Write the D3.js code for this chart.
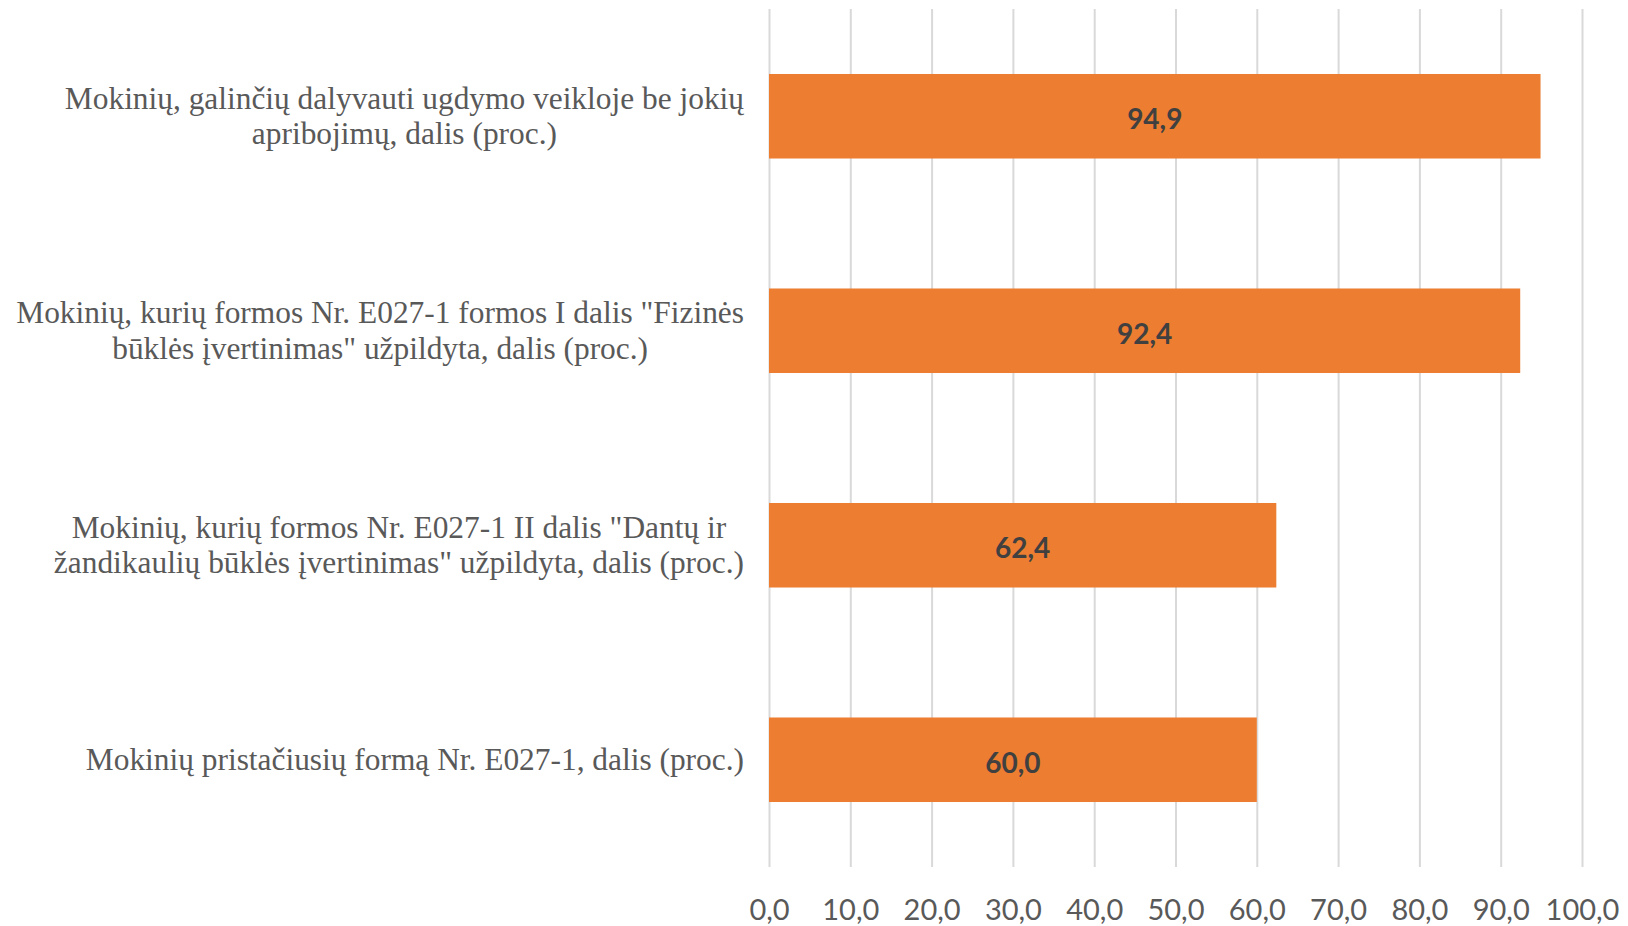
<!DOCTYPE html>
<html>
<head>
    <meta charset="utf-8" />
    <title>E027-1 formos</title>
    <script src="https://d3js.org/d3.v7.min.js"></script>
    <style>
        body { margin: 0; background: #fff; }
        .x.axis text { font-family: Lato, "Open Sans", sans-serif; font-size: 29px; fill: #595959; }
        .x.axis line { stroke: #d9d9d9; stroke-width: 2; }
        .cat text { font-family: "Liberation Serif", "Times New Roman", serif; font-size: 31.4px; fill: #595959; }
        .val { font-family: Lato, "Open Sans", sans-serif; font-size: 28px; font-weight: bold; fill: #404040; }
    </style>
</head>
<body>
    <svg class="chart"></svg>
    <script>
        // kategoriju pavadinimai (eilutemis, kaip lauzoma paveiksle)
        var categories = [
            ["Mokinių, galinčių dalyvauti ugdymo veikloje be jokių", "apribojimų, dalis (proc.)"],
            ["Mokinių, kurių formos Nr. E027-1 formos I dalis \"Fizinės", "būklės įvertinimas\" užpildyta, dalis (proc.)"],
            ["Mokinių, kurių formos Nr. E027-1 II dalis \"Dantų ir", "žandikaulių būklės įvertinimas\" užpildyta, dalis (proc.)"],
            ["Mokinių pristačiusių formą Nr. E027-1, dalis (proc.)"]
        ];
        var values = [94.9, 92.4, 62.4, 60.0];
        var xTicks = [0, 10, 20, 30, 40, 50, 60, 70, 80, 90, 100];

        var svgWidth = 1628, svgHeight = 926;
        var margin = {top: 9, right: 46, bottom: 59, left: 769};
        var width = svgWidth - margin.left - margin.right;
        var height = svgHeight - margin.top - margin.bottom;

        var svg = d3.select(".chart")
            .attr("width", svgWidth)
            .attr("height", svgHeight);

        var chart = svg.append("g")
            .attr("transform", "translate(" + margin.left + "," + margin.top + ")");

        var fmt = d => d3.format(".1f")(d).replace(".", ",");

        var xScale = d3.scaleLinear().domain([0, 100]).range([0, width]);
        var yScale = d3.scaleBand()
            .domain(d3.range(categories.length))
            .range([0, height])
            .paddingInner(0.606)
            .paddingOuter(0.303);

        var xAxis = d3.axisBottom(xScale)
            .tickValues(xTicks)
            .tickSize(-height)
            .tickFormat(fmt);

        var gx = chart.append("g")
            .attr("class", "x axis")
            .attr("transform", "translate(0," + height + ")")
            .call(xAxis);
        gx.select(".domain").remove();
        gx.selectAll("text").attr("dy", null).attr("y", 53);

        chart.selectAll(".bar")
            .data(values).enter().append("rect")
                .attr("class", "bar")
                .attr("x", xScale(0))
                .attr("y", (d, i) => yScale(i))
                .attr("width", d => xScale(d) - xScale(0))
                .attr("height", yScale.bandwidth())
                .attr("fill", "#ed7d31");

        chart.selectAll(".val")
            .data(values).enter().append("text")
                .attr("class", "val")
                .attr("x", d => (xScale(0) + xScale(d)) / 2)
                .attr("y", (d, i) => yScale(i) + yScale.bandwidth() / 2 + 13)
                .attr("text-anchor", "middle")
                .text(fmt);

        // kategoriju etiketes: eilutes centruotos, placiausia eilute lygiuojama desineje
        var rightEdge = -25, lineH = 35.5;
        var cats = chart.selectAll(".cat")
            .data(categories).enter().append("g")
                .attr("class", "cat");

        cats.each(function (lines, i) {
            var g = d3.select(this);
            var cy = yScale(i) + yScale.bandwidth() / 2;
            var t = g.selectAll("text").data(lines).enter().append("text")
                .attr("text-anchor", "middle")
                .attr("y", (d, j) => cy + (j - (lines.length - 1) / 2) * lineH + 10)
                .text(d => d);
            var maxW = d3.max(t.nodes(), n => n.getComputedTextLength());
            t.attr("x", rightEdge - maxW / 2);
        });
    </script>
</body>
</html>
